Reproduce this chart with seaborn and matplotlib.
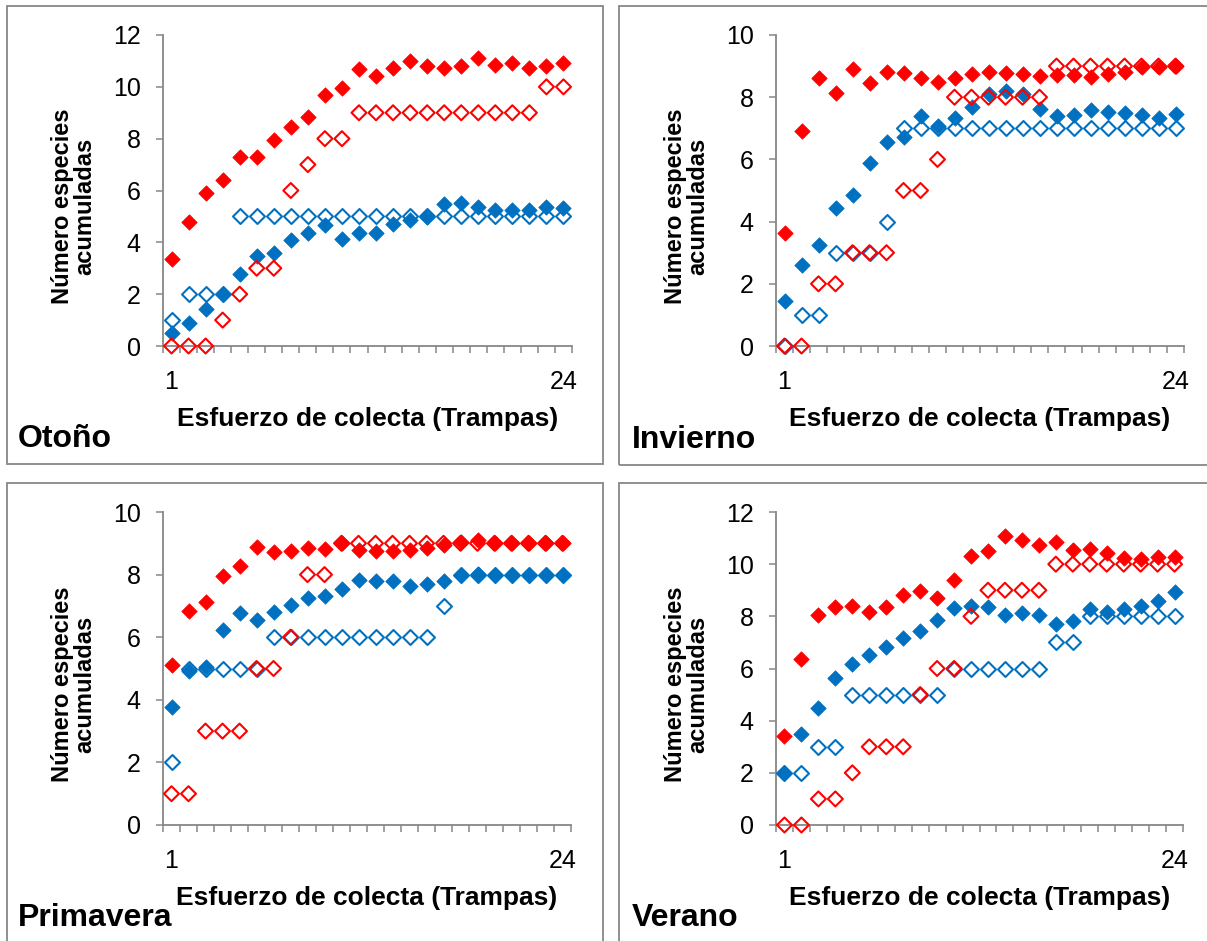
import matplotlib
matplotlib.use("Agg")
import matplotlib.pyplot as plt
import seaborn as sns
import pandas as pd
from matplotlib.patches import Rectangle

# ---------------- data ----------------
trampas = list(range(1, 25))

otono_rojo_lleno = [3.34, 4.79, 5.90, 6.40, 7.29, 7.28, 7.96, 8.44, 8.83, 9.70, 9.94, 10.68,
                    10.40, 10.74, 11.00, 10.80, 10.74, 10.80, 11.10, 10.86, 10.93, 10.71, 10.80, 10.93]
otono_rojo_vacio = [0, 0, 0, 1, 2, 3, 3, 6, 7, 8, 8, 9, 9, 9, 9, 9, 9, 9, 9, 9, 9, 9, 10, 10]
otono_azul_lleno = [0.52, 0.88, 1.42, 2.00, 2.77, 3.48, 3.59, 4.08, 4.37, 4.67, 4.12, 4.37,
                    4.37, 4.71, 4.88, 4.97, 5.47, 5.51, 5.35, 5.26, 5.23, 5.23, 5.35, 5.32]
otono_azul_vacio = [1, 2, 2, 2, 5, 5, 5, 5, 5, 5, 5, 5, 5, 5, 5, 5, 5, 5, 5, 5, 5, 5, 5, 5]

invierno_rojo_lleno = [3.64, 6.92, 8.63, 8.14, 8.91, 8.45, 8.80, 8.78, 8.63, 8.49, 8.61, 8.73,
                       8.82, 8.78, 8.76, 8.68, 8.70, 8.70, 8.66, 8.76, 8.82, 8.98, 8.98, 9.00]
invierno_rojo_vacio = [0, 0, 2, 2, 3, 3, 3, 5, 5, 6, 8, 8, 8, 8, 8, 8, 9, 9, 9, 9, 9, 9, 9, 9]
invierno_azul_lleno = [1.44, 2.59, 3.25, 4.43, 4.87, 5.87, 6.55, 6.73, 7.41, 7.08, 7.32, 7.69,
                       8.11, 8.19, 8.09, 7.61, 7.39, 7.44, 7.59, 7.54, 7.49, 7.42, 7.33, 7.45]
invierno_azul_vacio = [0, 1, 1, 3, 3, 3, 4, 7, 7, 7, 7, 7, 7, 7, 7, 7, 7, 7, 7, 7, 7, 7, 7, 7]

primavera_rojo_lleno = [5.10, 6.84, 7.11, 7.97, 8.29, 8.88, 8.71, 8.76, 8.84, 8.82, 9.01, 8.80,
                        8.74, 8.74, 8.77, 8.85, 8.96, 9.04, 9.09, 9.01, 9.00, 9.00, 9.00, 9.00]
primavera_rojo_vacio = [1, 1, 3, 3, 3, 5, 5, 6, 8, 8, 9, 9, 9, 9, 9, 9, 9, 9, 9, 9, 9, 9, 9, 9]
primavera_azul_lleno = [3.78, 4.93, 5.06, 6.24, 6.77, 6.56, 6.80, 7.04, 7.25, 7.31, 7.55, 7.83,
                        7.78, 7.80, 7.65, 7.69, 7.79, 8.00, 8.03, 8.00, 8.00, 8.00, 8.00, 8.00]
primavera_azul_vacio = [2, 5, 5, 5, 5, 5, 6, 6, 6, 6, 6, 6, 6, 6, 6, 6, 7, 8, 8, 8, 8, 8, 8, 8]

verano_rojo_lleno = [3.41, 6.37, 8.04, 8.34, 8.38, 8.15, 8.35, 8.80, 8.96, 8.72, 9.39, 10.32,
                     10.50, 11.09, 10.93, 10.73, 10.86, 10.56, 10.59, 10.41, 10.23, 10.18, 10.26, 10.27]
verano_rojo_vacio = [0, 0, 1, 1, 2, 3, 3, 3, 5, 6, 6, 8, 9, 9, 9, 9, 10, 10, 10, 10, 10, 10, 10, 10]
verano_azul_lleno = [2.00, 3.48, 4.49, 5.64, 6.19, 6.52, 6.83, 7.16, 7.43, 7.86, 8.31, 8.40,
                     8.34, 8.06, 8.11, 8.04, 7.70, 7.81, 8.27, 8.15, 8.27, 8.40, 8.59, 8.95]
verano_azul_vacio = [2, 2, 3, 3, 5, 5, 5, 5, 5, 5, 6, 6, 6, 6, 6, 6, 7, 7, 8, 8, 8, 8, 8, 8]

estaciones = ["Otoño", "Invierno", "Primavera", "Verano"]
y_max = [12, 10, 10, 12]
x_etiquetas = ["1", "24"]
titulo_x = "Esfuerzo de colecta (Trampas)"
titulo_y = "Número especies\nacumuladas"

series = {
    "Otoño": (otono_azul_vacio, otono_azul_lleno, otono_rojo_vacio, otono_rojo_lleno),
    "Invierno": (invierno_azul_vacio, invierno_azul_lleno, invierno_rojo_vacio, invierno_rojo_lleno),
    "Primavera": (primavera_azul_vacio, primavera_azul_lleno, primavera_rojo_vacio, primavera_rojo_lleno),
    "Verano": (verano_azul_vacio, verano_azul_lleno, verano_rojo_vacio, verano_rojo_lleno),
}

# ---------------- style ----------------
sns.set_theme(style="white")
plt.rcParams["font.family"] = ["Liberation Sans", "DejaVu Sans"]

W, H = 1207, 941
fig = plt.figure(figsize=(W / 100, H / 100), dpi=100)

AZUL = "#0070C0"
ROJO = "#FF0000"
GRIS = "#878787"

def fx(px):
    return px / W

def fy(py):
    return 1 - py / H

# axes pixel boxes: left, right, top, bottom
cajas_ejes = [(163, 572, 35, 346), (776, 1184, 35, 346),
              (163, 571, 512, 825), (776, 1183, 512, 825)]
# panel border boxes: left, top, right, bottom
bordes = [(7, 6, 603, 464), (619, 6, 1215, 465),
          (7, 483, 603, 960), (619, 483, 1215, 960)]
# label anchor positions (left, baseline)
etiqueta_pos = [(18, 447), (632, 448), (18, 926), (632, 926)]

for i, est in enumerate(estaciones):
    bl, bt, br, bb = bordes[i]
    fig.patches.append(Rectangle((fx(bl), fy(bb)), fx(br - bl), (bb - bt) / H,
                                 transform=fig.transFigure, fill=False,
                                 edgecolor=GRIS, linewidth=1.3, zorder=0))

    l, r, t, b = cajas_ejes[i]
    ax = fig.add_axes([fx(l), fy(b), fx(r - l), (b - t) / H])
    av, al, rv, rl = series[est]
    df = pd.DataFrame({"trampa": trampas, "azul_vacio": av, "azul_lleno": al,
                       "rojo_vacio": rv, "rojo_lleno": rl})

    sns.scatterplot(data=df, x="trampa", y="azul_vacio", ax=ax, marker="D", s=58,
                    facecolor="white", edgecolor=AZUL, linewidth=1.5, zorder=3)
    sns.scatterplot(data=df, x="trampa", y="azul_lleno", ax=ax, marker="D", s=62,
                    color=AZUL, edgecolor=AZUL, linewidth=0.5, zorder=4)
    sns.scatterplot(data=df, x="trampa", y="rojo_vacio", ax=ax, marker="D", s=58,
                    facecolor="none", edgecolor=ROJO, linewidth=1.5, zorder=5)
    sns.scatterplot(data=df, x="trampa", y="rojo_lleno", ax=ax, marker="D", s=62,
                    color=ROJO, edgecolor=ROJO, linewidth=0.5, zorder=6)

    ax.set_xlim(0.5, 24.5)
    ax.set_ylim(0, y_max[i])
    ax.set_yticks(range(0, y_max[i] + 1, 2))
    ax.set_xticks([1, 24])
    ax.set_xticklabels(x_etiquetas)
    ax.set_xticks([k + 0.5 for k in range(0, 25)], minor=True)
    ax.set_xlabel("")
    ax.set_ylabel("")
    for s in ["top", "right"]:
        ax.spines[s].set_visible(False)
    for s in ["left", "bottom"]:
        ax.spines[s].set_color(GRIS)
        ax.spines[s].set_linewidth(1.3)
        ax.spines[s].set_zorder(1)
    ax.tick_params(axis="y", which="major", direction="out", length=5, width=1.1,
                   color=GRIS, labelsize=18, labelcolor="black", pad=11, left=True)
    ax.tick_params(axis="x", which="major", length=0, labelsize=18,
                   labelcolor="black", pad=17, bottom=True)
    ax.tick_params(axis="x", which="minor", direction="out", length=5, width=1.1,
                   color=GRIS, bottom=True)
    ax.patch.set_visible(False)
    for c in ax.collections:
        c.set_clip_on(False)

    cx = (l + r) / 2
    fig.text(fx(cx), fy(b + 80), titulo_x, ha="center", va="baseline",
             fontsize=19, fontweight="bold", color="black")
    fig.text(fx(l - 89), fy((t + b) / 2 + 16), titulo_y, ha="center", va="center",
             rotation=90, fontsize=17, fontweight="bold", color="black",
             multialignment="center", linespacing=0.95)
    ex, ey = etiqueta_pos[i]
    fig.text(fx(ex), fy(ey), est, ha="left", va="baseline",
             fontsize=23, fontweight="bold", color="black")

fig.savefig("out.png", dpi=100, facecolor="white")
